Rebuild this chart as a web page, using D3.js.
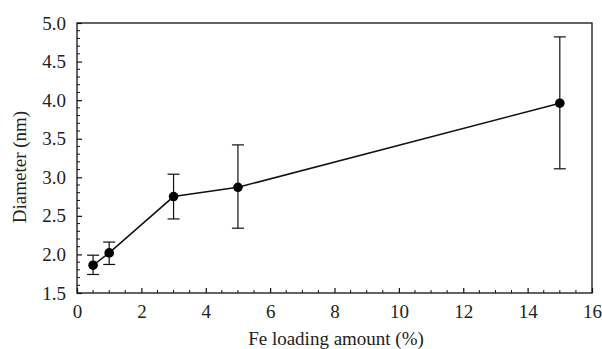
<!DOCTYPE html>
<html>
<head>
<meta charset="utf-8">
<script src="https://cdn.jsdelivr.net/npm/d3@7"></script>
<style>
  body { margin: 0; background: #fff; }
  svg text { font-family: "Liberation Serif", "Times New Roman", Times, Tinos, "Nimbus Roman", "DejaVu Serif", serif; fill: #222; }
</style>
</head>
<body>
<div id="chart"></div>
<script>
// Fe loading (%) vs particle diameter (nm)
const loading = [0.5, 1, 3, 5, 15];
const diameter = [1.86, 2.02, 2.75, 2.87, 3.96];
const errLow = [1.74, 1.87, 2.46, 2.34, 3.11];
const errHigh = [1.99, 2.16, 3.04, 3.42, 4.82];

const xTicks = [0, 2, 4, 6, 8, 10, 12, 14, 16];
const yTicks = [1.5, 2.0, 2.5, 3.0, 3.5, 4.0, 4.5, 5.0];

const width = 602;
const height = 349;
const margin = { top: 23, right: 10, bottom: 56, left: 77 };

const svg = d3.select("#chart")
              .append("svg")
              .attr("width", width)
              .attr("height", height);

const x = d3.scaleLinear().domain([0, 16]).range([margin.left, width - margin.right]);
const y = d3.scaleLinear().domain([1.5, 5.0]).range([height - margin.bottom, margin.top]);

const x0 = margin.left, x1 = width - margin.right;
const y0 = height - margin.bottom, y1 = margin.top;

// frame
svg.append("rect")
   .attr("x", x0).attr("y", y1)
   .attr("width", x1 - x0).attr("height", y0 - y1)
   .attr("fill", "none").attr("stroke", "#111").attr("stroke-width", 1.3);

// minor ticks (inward)
const xMinor = d3.range(0, 16.01, 0.5).filter(v => v % 2 !== 0);
const yMinor = d3.range(1.5, 5.001, 0.1).filter(v => Math.abs(v * 2 - Math.round(v * 2)) > 1e-6);

svg.append("g").selectAll("line").data(xMinor).enter().append("line")
   .attr("x1", d => x(d)).attr("x2", d => x(d))
   .attr("y1", y0).attr("y2", y0 - 3)
   .attr("stroke", "#111").attr("stroke-width", 1);

svg.append("g").selectAll("line").data(yMinor).enter().append("line")
   .attr("x1", x0).attr("x2", x0 + 3)
   .attr("y1", d => y(d)).attr("y2", d => y(d))
   .attr("stroke", "#111").attr("stroke-width", 1);

// major axes with inward ticks
const xAxis = svg.append("g")
   .attr("transform", `translate(0,${y0})`)
   .call(d3.axisBottom(x).tickValues(xTicks).tickSizeInner(-5).tickSizeOuter(0).tickPadding(12).tickFormat(d3.format("d")));
xAxis.attr("font-family", null);
xAxis.select(".domain").remove();
xAxis.selectAll("line").attr("stroke", "#111").attr("stroke-width", 1.2);
xAxis.selectAll("text").attr("font-size", 19).attr("fill", "#222");

const yAxis = svg.append("g")
   .attr("transform", `translate(${x0},0)`)
   .call(d3.axisLeft(y).tickValues(yTicks).tickSizeInner(-5).tickSizeOuter(0).tickPadding(11).tickFormat(d3.format(".1f")));
yAxis.attr("font-family", null);
yAxis.select(".domain").remove();
yAxis.selectAll("line").attr("stroke", "#111").attr("stroke-width", 1.2);
yAxis.selectAll("text").attr("font-size", 19).attr("fill", "#222");

// axis titles
svg.append("text")
   .attr("x", 336).attr("y", 345)
   .attr("text-anchor", "middle")
   .attr("font-size", 19)
   .text("Fe loading amount (%)");

svg.append("text")
   .attr("transform", "translate(26,167) rotate(-90)")
   .attr("text-anchor", "middle")
   .attr("font-size", 19)
   .text("Diameter (nm)");

const pts = loading.map((v, i) => ({ x: v, y: diameter[i], lo: errLow[i], hi: errHigh[i] }));

// error bars
const eb = svg.append("g").attr("stroke", "#111").attr("stroke-width", 1.2);
pts.forEach(p => {
  eb.append("line").attr("x1", x(p.x)).attr("x2", x(p.x)).attr("y1", y(p.lo)).attr("y2", y(p.hi));
  eb.append("line").attr("x1", x(p.x) - 6).attr("x2", x(p.x) + 6).attr("y1", y(p.lo)).attr("y2", y(p.lo));
  eb.append("line").attr("x1", x(p.x) - 6).attr("x2", x(p.x) + 6).attr("y1", y(p.hi)).attr("y2", y(p.hi));
});

// connecting line
svg.append("path")
   .datum(pts)
   .attr("d", d3.line().x(d => x(d.x)).y(d => y(d.y)))
   .attr("fill", "none").attr("stroke", "#111").attr("stroke-width", 1.5);

// markers
svg.append("g").selectAll("circle").data(pts).enter().append("circle")
   .attr("cx", d => x(d.x)).attr("cy", d => y(d.y))
   .attr("r", 4.8).attr("fill", "#000");
</script>
</body>
</html>
